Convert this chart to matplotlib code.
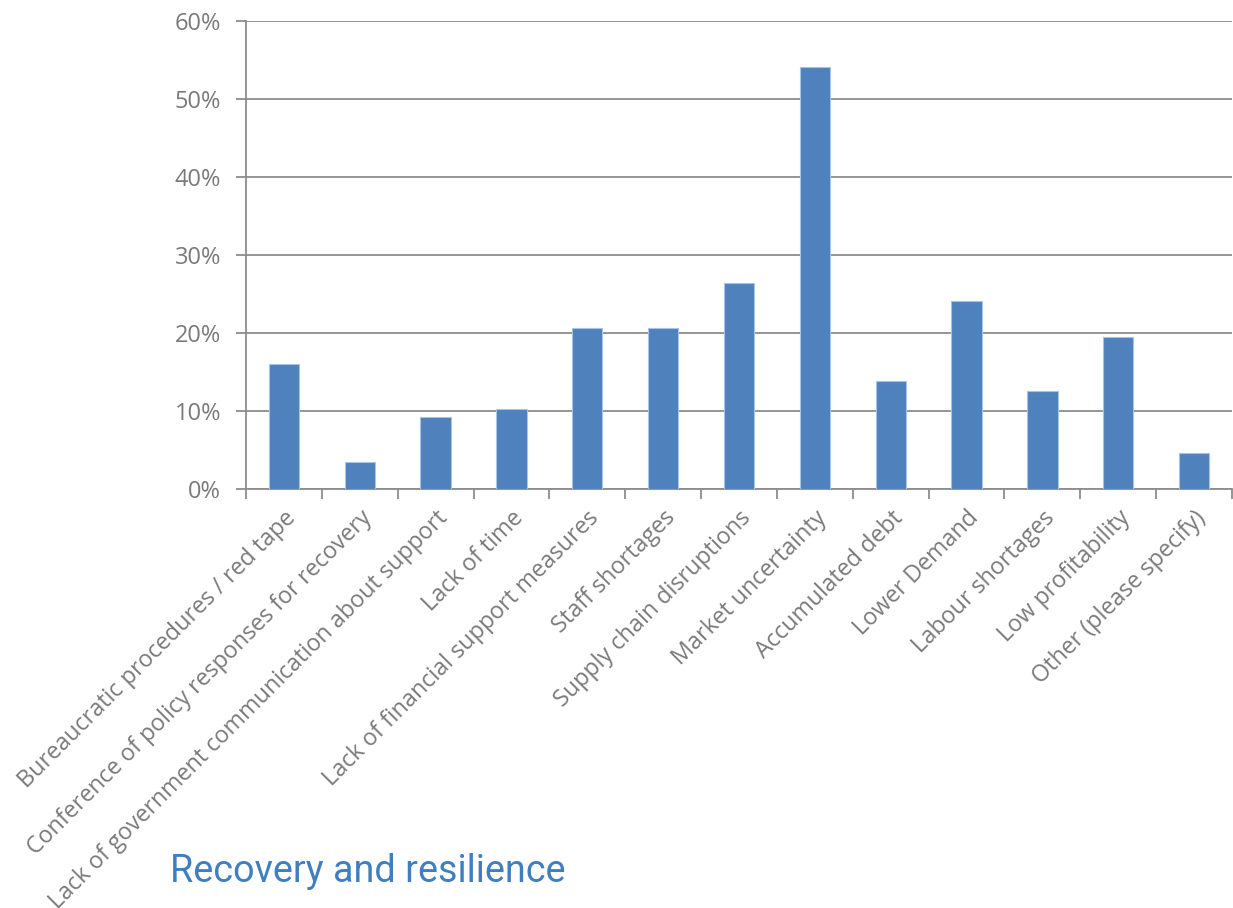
import matplotlib
matplotlib.use("Agg")
import matplotlib.pyplot as plt
from matplotlib.ticker import FuncFormatter, MultipleLocator

categories = [
    "Bureaucratic procedures / red tape",
    "Conference of policy responses for recovery",
    "Lack of government communication about support",
    "Lack of time",
    "Lack of financial support measures",
    "Staff shortages",
    "Supply chain disruptions",
    "Market uncertainty",
    "Accumulated debt",
    "Lower Demand",
    "Labour shortages",
    "Low profitability",
    "Other (please specify)",
]
values = [16.1, 3.5, 9.25, 10.3, 20.7, 20.7, 26.4, 54.1, 13.9, 24.1, 12.6, 19.5, 4.7]
title_text = "Recovery and resilience"

W, H = 1233, 908
fig = plt.figure(figsize=(W / 100, H / 100), dpi=100)
ax = fig.add_axes([246 / W, 1 - 489.3 / H, (1232 - 246) / W, (489.3 - 21) / H])

grey = "#8c8c8c"
text_grey = "#7a7a7a"
x = list(range(len(categories)))
ax.bar(x, values, width=0.40, color="#4F81BD", edgecolor="#a9c3e3", linewidth=0.8, zorder=3)

ax.set_xlim(-0.5, len(categories) - 0.5)
ax.set_ylim(0, 60)
ax.yaxis.set_major_locator(MultipleLocator(10))
ax.yaxis.set_major_formatter(FuncFormatter(lambda v, p: f"{int(round(v))}%"))
ax.grid(axis="y", color=grey, linewidth=1.3, zorder=0)

for s in ["top", "right"]:
    ax.spines[s].set_visible(False)
for s in ["left", "bottom"]:
    ax.spines[s].set_color(grey)
    ax.spines[s].set_linewidth(1.3)

ax.set_xticks([i - 0.5 for i in range(len(categories) + 1)], minor=False)
ax.set_xticklabels([])
ax.set_xticks(x, minor=True)
ax.set_xticklabels(categories, minor=True, rotation=45, ha="right", rotation_mode="anchor",
                   fontsize=16.8, color=text_grey, family=["Open Sans", "DejaVu Sans"])
ax.tick_params(axis="x", which="major", length=7, width=1.3, color=grey, direction="out")
ax.tick_params(axis="x", which="minor", length=0, pad=12)
ax.tick_params(axis="y", length=7, width=1.3, color=grey, pad=11, labelsize=17, labelcolor=text_grey)
for lab in ax.get_yticklabels():
    lab.set_family(["Open Sans", "DejaVu Sans"])

fig.text(170 / W, 1 - 882 / H, title_text, fontsize=27.2, color="#3F7FBF",
         family=["Roboto", "DejaVu Sans"], ha="left", va="baseline")

fig.savefig("out.png", dpi=100)
